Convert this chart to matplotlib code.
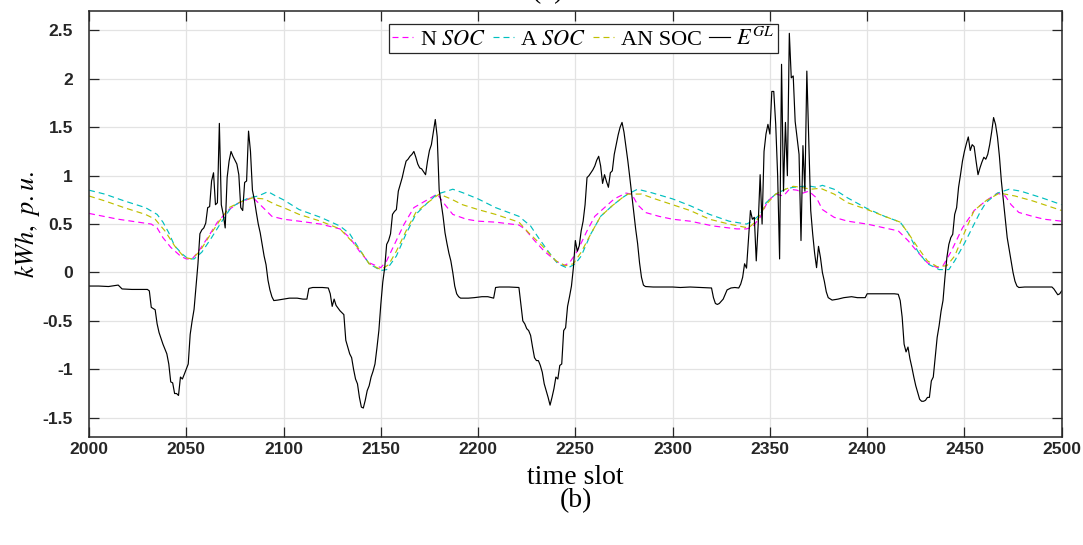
import matplotlib
matplotlib.use("Agg")
import matplotlib.pyplot as plt
import numpy as np

# ---------------------------------------------------------------- data
egl_slot = [2000, 2005, 2010, 2015, 2017, 2022, 2030, 2031, 2032, 2034, 2035, 2036, 2038, 2040,
            2041, 2042, 2043, 2044, 2045, 2046, 2047, 2048, 2049, 2051, 2052, 2053, 2054, 2055,
            2056, 2057, 2058, 2059, 2060, 2061, 2062, 2063, 2064, 2065, 2066, 2067, 2068, 2069,
            2070, 2071, 2072, 2073, 2074, 2075, 2076, 2077, 2078, 2079, 2080, 2081, 2082, 2083,
            2084, 2085, 2086, 2087, 2088, 2089, 2090, 2091, 2092, 2093, 2094, 2095, 2097, 2100,
            2103, 2107, 2110, 2112, 2113, 2115, 2120, 2123, 2124, 2125, 2126, 2127, 2129, 2131,
            2132, 2134, 2135, 2136, 2137, 2138, 2139, 2140, 2141, 2142, 2143, 2144, 2145, 2146,
            2147, 2148, 2149, 2150, 2151, 2152, 2153, 2154, 2155, 2156, 2157, 2158, 2159, 2160,
            2161, 2162, 2163, 2164, 2165, 2166, 2167, 2168, 2169, 2170, 2171, 2172, 2173, 2174,
            2175, 2176, 2177, 2178, 2179, 2180, 2181, 2182, 2183, 2184, 2185, 2186, 2187, 2188,
            2189, 2190, 2191, 2195, 2198, 2202, 2205, 2208, 2209, 2211, 2216, 2221, 2222, 2223,
            2224, 2225, 2226, 2227, 2228, 2229, 2230, 2231, 2232, 2233, 2234, 2235, 2236, 2237,
            2238, 2239, 2240, 2241, 2242, 2243, 2244, 2245, 2246, 2247, 2248, 2249, 2250, 2251,
            2252, 2253, 2254, 2255, 2256, 2257, 2258, 2259, 2260, 2261, 2262, 2263, 2264, 2265,
            2266, 2267, 2268, 2269, 2270, 2271, 2272, 2273, 2274, 2275, 2276, 2277, 2278, 2279,
            2280, 2281, 2282, 2283, 2284, 2285, 2286, 2290, 2295, 2300, 2304, 2309, 2314, 2320,
            2321, 2322, 2323, 2324, 2326, 2328, 2330, 2332, 2334, 2335, 2336, 2337, 2338, 2339,
            2340, 2341, 2342, 2343, 2344, 2345, 2346, 2347, 2348, 2349, 2350, 2351, 2352, 2353,
            2354, 2355, 2356, 2357, 2358, 2359, 2360, 2361, 2362, 2363, 2365, 2366, 2367, 2368,
            2369, 2370, 2371, 2372, 2373, 2374, 2375, 2376, 2377, 2378, 2379, 2380, 2382, 2385,
            2388, 2392, 2395, 2399, 2400, 2404, 2409, 2414, 2416, 2417, 2418, 2419, 2420, 2421,
            2422, 2423, 2424, 2425, 2426, 2427, 2428, 2429, 2430, 2431, 2432, 2433, 2434, 2435,
            2436, 2437, 2438, 2439, 2440, 2441, 2442, 2443, 2444, 2445, 2446, 2447, 2448, 2449,
            2450, 2451, 2452, 2453, 2454, 2455, 2456, 2457, 2458, 2459, 2460, 2461, 2462, 2463,
            2464, 2465, 2466, 2467, 2468, 2469, 2470, 2471, 2472, 2473, 2474, 2475, 2476, 2477,
            2478, 2481, 2485, 2490, 2495, 2496, 2497, 2498, 2499, 2500]
egl_value = [-0.14, -0.14, -0.145, -0.13, -0.17, -0.175, -0.175, -0.19, -0.36, -0.385, -0.53, -0.62, -0.74, -0.84,
             -0.945, -1.13, -1.14, -1.25, -1.25, -1.27, -1.08, -1.10, -1.05, -0.945, -0.64, -0.50, -0.38, -0.15,
             0.09, 0.40, 0.44, 0.46, 0.51, 0.67, 0.68, 0.945, 1.03, 0.70, 0.72, 1.54, 0.70, 0.60,
             0.46, 0.98, 1.15, 1.25, 1.20, 1.16, 1.12, 1.01, 0.67, 0.64, 0.93, 0.945, 1.46, 1.25,
             0.85, 0.75, 0.62, 0.50, 0.41, 0.29, 0.17, 0.08, -0.08, -0.18, -0.25, -0.29, -0.285, -0.275,
             -0.265, -0.265, -0.275, -0.275, -0.165, -0.155, -0.155, -0.16, -0.22, -0.35, -0.275, -0.34, -0.395, -0.435,
             -0.70, -0.84, -0.88, -1.0, -1.10, -1.15, -1.29, -1.39, -1.40, -1.32, -1.22, -1.17, -1.08, -1.02,
             -0.945, -0.78, -0.60, -0.33, -0.10, 0.05, 0.29, 0.33, 0.40, 0.60, 0.63, 0.65, 0.84, 0.91,
             0.98, 1.07, 1.15, 1.17, 1.20, 1.22, 1.25, 1.19, 1.12, 1.08, 1.07, 1.04, 1.01, 1.15,
             1.26, 1.32, 1.45, 1.58, 1.40, 0.85, 0.72, 0.58, 0.41, 0.30, 0.20, 0.12, 0.0, -0.14,
             -0.22, -0.25, -0.265, -0.265, -0.26, -0.25, -0.25, -0.265, -0.155, -0.15, -0.15, -0.155, -0.33, -0.50,
             -0.53, -0.58, -0.60, -0.65, -0.77, -0.88, -0.91, -0.91, -0.96, -1.03, -1.15, -1.22, -1.29, -1.37,
             -1.29, -1.20, -1.08, -1.10, -0.96, -0.945, -0.60, -0.57, -0.35, -0.25, -0.14, 0.05, 0.33, 0.22,
             0.275, 0.43, 0.53, 0.70, 0.98, 1.0, 1.03, 1.06, 1.10, 1.16, 1.20, 1.10, 0.92, 1.01,
             0.94, 0.88, 1.03, 1.05, 1.22, 1.32, 1.42, 1.50, 1.55, 1.45, 1.30, 1.15, 0.98, 0.80,
             0.62, 0.45, 0.30, 0.10, -0.05, -0.13, -0.145, -0.15, -0.15, -0.15, -0.155, -0.15, -0.155, -0.16,
             -0.26, -0.32, -0.33, -0.32, -0.275, -0.18, -0.16, -0.155, -0.16, -0.12, -0.05, 0.09, 0.045, 0.35,
             0.64, 0.55, 0.57, 0.12, 0.50, 1.01, 0.50, 1.25, 1.43, 1.53, 1.43, 1.87, 1.87, 1.53,
             1.0, 0.14, 2.15, 0.84, 1.55, 1.0, 2.47, 2.01, 2.03, 1.56, 1.22, 0.33, 1.31, 0.84,
             2.08, 1.36, 0.64, 0.40, 0.20, 0.05, 0.27, 0.155, 0.0, -0.09, -0.2, -0.26, -0.285, -0.275,
             -0.26, -0.25, -0.26, -0.26, -0.22, -0.22, -0.22, -0.22, -0.225, -0.29, -0.46, -0.74, -0.82, -0.77,
             -0.89, -0.98, -1.08, -1.17, -1.24, -1.31, -1.33, -1.33, -1.32, -1.29, -1.29, -1.12, -1.08, -0.88,
             -0.67, -0.55, -0.40, -0.29, -0.05, 0.155, 0.29, 0.36, 0.395, 0.60, 0.67, 0.88, 1.01, 1.15,
             1.25, 1.33, 1.40, 1.26, 1.32, 1.30, 1.15, 1.01, 1.08, 1.14, 1.19, 1.17, 1.22, 1.32,
             1.45, 1.60, 1.53, 1.40, 1.20, 0.945, 0.75, 0.55, 0.36, 0.24, 0.12, 0.0, -0.09, -0.14,
             -0.155, -0.15, -0.15, -0.15, -0.15, -0.17, -0.20, -0.23, -0.22, -0.19]

n_soc_slot = [2000, 2015, 2032, 2035, 2038, 2042, 2047, 2050, 2053, 2056, 2061, 2066, 2072, 2077,
              2080, 2084, 2087, 2091, 2094, 2100, 2108, 2119, 2129, 2134, 2139, 2144, 2150, 2153,
              2157, 2162, 2167, 2173, 2179, 2183, 2187, 2194, 2200, 2209, 2221, 2224, 2229, 2234,
              2240, 2244, 2247, 2251, 2256, 2260, 2265, 2270, 2276, 2279, 2282, 2286, 2293, 2300,
              2309, 2321, 2333, 2338, 2341, 2345, 2349, 2353, 2357, 2360, 2364, 2367, 2370, 2374,
              2377, 2383, 2390, 2400, 2409, 2416, 2421, 2426, 2431, 2436, 2439, 2443, 2449, 2455,
              2461, 2467, 2471, 2474, 2478, 2485, 2491, 2500]
n_soc_value = [0.61, 0.55, 0.50, 0.46, 0.36, 0.26, 0.17, 0.14, 0.14, 0.21, 0.36, 0.52, 0.65, 0.72,
               0.74, 0.78, 0.72, 0.64, 0.58, 0.55, 0.53, 0.50, 0.45, 0.36, 0.22, 0.10, 0.05, 0.12,
               0.29, 0.50, 0.67, 0.74, 0.81, 0.70, 0.60, 0.55, 0.53, 0.52, 0.49, 0.45, 0.33, 0.22,
               0.12, 0.07, 0.10, 0.22, 0.43, 0.58, 0.67, 0.76, 0.82, 0.81, 0.70, 0.62, 0.58, 0.55,
               0.53, 0.48, 0.45, 0.45, 0.47, 0.57, 0.74, 0.81, 0.79, 0.86, 0.85, 0.82, 0.84, 0.77,
               0.65, 0.57, 0.53, 0.50, 0.46, 0.43, 0.33, 0.21, 0.10, 0.05, 0.07, 0.21, 0.46, 0.64,
               0.74, 0.82, 0.79, 0.70, 0.62, 0.58, 0.55, 0.53]

a_soc_slot = [2000, 2008, 2018, 2029, 2035, 2038, 2041, 2044, 2048, 2051, 2054, 2058, 2063, 2068,
              2073, 2077, 2082, 2087, 2092, 2096, 2100, 2108, 2119, 2129, 2134, 2139, 2144, 2150,
              2153, 2158, 2163, 2168, 2174, 2179, 2184, 2187, 2192, 2200, 2209, 2221, 2227, 2231,
              2236, 2241, 2246, 2250, 2253, 2258, 2263, 2269, 2274, 2277, 2282, 2289, 2300, 2309,
              2319, 2329, 2338, 2341, 2345, 2348, 2353, 2358, 2362, 2367, 2371, 2374, 2377, 2383,
              2390, 2400, 2409, 2417, 2421, 2426, 2431, 2437, 2442, 2445, 2450, 2455, 2458, 2461,
              2467, 2473, 2479, 2490, 2500]
a_soc_value = [0.85, 0.81, 0.74, 0.67, 0.60, 0.52, 0.41, 0.275, 0.19, 0.14, 0.14, 0.21, 0.36, 0.52,
               0.67, 0.72, 0.77, 0.79, 0.835, 0.79, 0.75, 0.65, 0.57, 0.48, 0.40, 0.24, 0.09, 0.02,
               0.03, 0.17, 0.40, 0.60, 0.72, 0.81, 0.84, 0.86, 0.825, 0.76, 0.67, 0.58, 0.48, 0.36,
               0.22, 0.09, 0.045, 0.09, 0.17, 0.40, 0.58, 0.69, 0.77, 0.81, 0.86, 0.825, 0.76, 0.69,
               0.60, 0.53, 0.50, 0.53, 0.60, 0.72, 0.81, 0.86, 0.88, 0.89, 0.89, 0.88, 0.90, 0.86,
               0.77, 0.66, 0.58, 0.52, 0.41, 0.22, 0.09, 0.03, 0.03, 0.12, 0.30, 0.50, 0.62, 0.72,
               0.82, 0.86, 0.84, 0.77, 0.70]

an_soc_slot = [2000, 2008, 2018, 2029, 2034, 2039, 2044, 2049, 2053, 2057, 2062, 2067, 2072, 2078,
               2084, 2090, 2096, 2100, 2108, 2119, 2129, 2139, 2144, 2150, 2154, 2158, 2163, 2168,
               2174, 2180, 2186, 2192, 2200, 2209, 2221, 2226, 2233, 2240, 2245, 2249, 2253, 2258,
               2263, 2269, 2274, 2277, 2284, 2291, 2300, 2309, 2319, 2329, 2339, 2343, 2348, 2353,
               2358, 2362, 2366, 2371, 2376, 2383, 2390, 2400, 2409, 2417, 2421, 2426, 2431, 2436,
               2441, 2445, 2450, 2455, 2461, 2468, 2476, 2485, 2500]
an_soc_value = [0.79, 0.74, 0.67, 0.60, 0.55, 0.43, 0.275, 0.155, 0.14, 0.22, 0.38, 0.53, 0.67, 0.73,
                0.77, 0.76, 0.70, 0.67, 0.60, 0.53, 0.45, 0.24, 0.09, 0.03, 0.08, 0.22, 0.43, 0.62,
                0.72, 0.81, 0.76, 0.70, 0.65, 0.60, 0.52, 0.41, 0.275, 0.12, 0.07, 0.09, 0.21, 0.40,
                0.58, 0.69, 0.77, 0.81, 0.81, 0.76, 0.70, 0.64, 0.55, 0.50, 0.46, 0.53, 0.70, 0.81,
                0.86, 0.89, 0.88, 0.86, 0.87, 0.81, 0.72, 0.65, 0.58, 0.52, 0.41, 0.26, 0.12, 0.06,
                0.07, 0.17, 0.41, 0.64, 0.74, 0.82, 0.79, 0.74, 0.64]

series_labels = ["N $SOC$", "A $SOC$", "AN SOC", "$E^{GL}$"]
x_ticks = [2000, 2050, 2100, 2150, 2200, 2250, 2300, 2350, 2400, 2450, 2500]
y_ticks = [-1.5, -1, -0.5, 0, 0.5, 1, 1.5, 2, 2.5]
y_tick_labels = ["-1.5", "-1", "-0.5", "0", "0.5", "1", "1.5", "2", "2.5"]

# ---------------------------------------------------------------- style
plt.rcParams["mathtext.fontset"] = "stix"
plt.rcParams["font.family"] = ["Liberation Serif", "DejaVu Serif"]
plt.rcParams["lines.scale_dashes"] = False

AX_COLOR = "#262626"
DASH = (4.3, 2.9)

fig = plt.figure(figsize=(10.83, 5.45), dpi=100)
ax = fig.add_axes([0.0822, 0.198, 0.8981, 0.7817])

ax.plot(n_soc_slot, n_soc_value, color="#FF00FF", lw=0.85, dashes=DASH, label=series_labels[0])
ax.plot(a_soc_slot, a_soc_value, color="#00BFBF", lw=0.85, dashes=DASH, label=series_labels[1])
ax.plot(an_soc_slot, an_soc_value, color="#BFBF00", lw=0.85, dashes=DASH, label=series_labels[2])
ax.plot(egl_slot, egl_value, color="black", lw=0.85, label=series_labels[3])

ax.set_xlim(2000, 2500)
ax.set_ylim(-1.7, 2.7)
ax.set_xticks(x_ticks)
ax.set_xticklabels([str(t) for t in x_ticks])
ax.set_yticks(y_ticks)
ax.set_yticklabels(y_tick_labels)

ax.grid(True, color="#E3E3E3", lw=0.9)
ax.set_axisbelow(True)
for s in ax.spines.values():
    s.set_color(AX_COLOR)
    s.set_linewidth(1.1)

ax.tick_params(axis="both", which="major", direction="in", length=7.2, width=0.9,
               color=AX_COLOR, top=True, right=True)
ax.tick_params(axis="x", pad=3.4)
ax.tick_params(axis="y", pad=11.5)
for lab in ax.get_xticklabels() + ax.get_yticklabels():
    lab.set_fontfamily("Liberation Sans")
    lab.set_fontweight("bold")
    lab.set_fontsize(12.6)
    lab.set_color(AX_COLOR)

ax.set_ylabel("$kWh,\\ p.u.$", fontsize=19, va="center")
ax.yaxis.set_label_coords(-0.063, 0.5)
fig.text(0.531, 0.124, "time slot", ha="center", va="center", fontsize=20)
fig.text(0.532, 0.081, "(b)", ha="center", va="center", fontsize=20)
fig.text(0.506, 1.003, "(b)", ha="center", va="baseline", fontsize=20)

leg = ax.legend(loc="upper center", bbox_to_anchor=(0.508, 0.969), ncol=4, fontsize=16,
                frameon=True, fancybox=False, borderaxespad=0, borderpad=0.15,
                handlelength=0.95, handletextpad=0.3, columnspacing=0.3,
                facecolor="white", edgecolor=AX_COLOR, framealpha=1)
leg.get_frame().set_linewidth(0.9)

fig.savefig("out.png", dpi=100)
